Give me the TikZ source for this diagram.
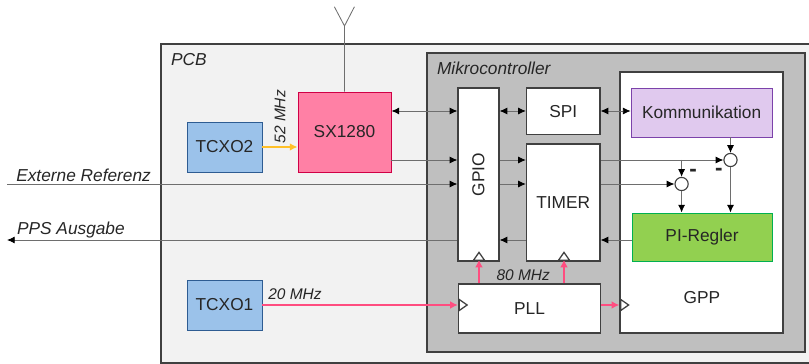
\documentclass[tikz,border=0pt]{standalone}
\usepackage{fontspec}
\setmainfont{Liberation Sans}
\usepackage{xcolor}
\usetikzlibrary{arrows.meta, positioning, calc, shapes.geometric}
\definecolor{LineGrey}{RGB}{110, 110, 110}
\definecolor{BoxDark}{RGB}{64, 64, 64}
\definecolor{PcbFill}{RGB}{242, 242, 242}
\definecolor{McuFill}{RGB}{191, 191, 191}
\definecolor{XoFill}{RGB}{155, 194, 234}
\definecolor{XoDraw}{RGB}{46, 92, 146}
\definecolor{RadioFill}{RGB}{255, 128, 165}
\definecolor{RadioDraw}{RGB}{208, 0, 70}
\definecolor{CommFill}{RGB}{224, 201, 238}
\definecolor{CommDraw}{RGB}{124, 66, 170}
\definecolor{CtrlFill}{RGB}{146, 208, 80}
\definecolor{CtrlDraw}{RGB}{0, 176, 80}
\definecolor{ClockPink}{RGB}{255, 77, 128}
\definecolor{ClockYellow}{RGB}{255, 192, 40}
\definecolor{InkText}{RGB}{38, 38, 38}
\tikzset{
  blockbox/.style={draw=BoxDark,line width=0.9pt,fill=white,inner sep=0pt,text=InkText,font=\fontsize{12.3}{14}\selectfont},
  colorbox/.style={blockbox,line width=0.7pt},
  titletext/.style={inner sep=0pt,text=InkText,font=\fontsize{12.3}{14}\selectfont\itshape},
  sigline/.style={draw=LineGrey,line width=0.6pt},
  sigarrow/.style={sigline,-{Latex[black,length=5.5pt,width=5pt]}},
  sigboth/.style={sigline,{Latex[black,length=5.5pt,width=5pt]}-{Latex[black,length=5.5pt,width=5pt]}},
  clockline/.style={draw=ClockPink,line width=1.4pt,-{Latex[length=5.5pt,width=5.5pt]}},
  clockmark/.style={draw=BoxDark,line width=0.9pt,fill=white,isosceles triangle,isosceles triangle apex angle=70,inner sep=0pt,minimum height=0.2cm,minimum width=0.2cm},
  sumnode/.style={circle,draw=BoxDark,line width=0.8pt,fill=white,inner sep=0pt,minimum size=0.33cm},
  minustext/.style={inner sep=0pt,text=InkText,font=\bfseries\fontsize{16}{18}\selectfont}
}

\begin{document}
\begin{tikzpicture}[x=1cm,y=1cm]
    \useasboundingbox (0,0) rectangle (20.225,-9.1);
    % outer boards
    \node[draw=BoxDark,line width=0.9pt,fill=PcbFill,inner sep=0pt,minimum width=16.35cm,minimum height=7.975cm] (pcb) at (12.2,-5.0875) {};
    \node[draw=BoxDark,line width=0.9pt,fill=McuFill,inner sep=0pt,minimum width=9.45cm,minimum height=7.475cm] (mcu) at (15.4,-5.0625) {};
    \node[titletext,anchor=west] (pcbtitle) at (4.27,-1.5) {PCB};
    \node[titletext,anchor=west] (mcutitle) at (10.92,-1.7) {Mikrocontroller};

    % blocks
    \node[blockbox,minimum width=4.075cm,minimum height=6.525cm] (gpp) at (17.5375,-5.0625) {};
    \node[inner sep=0pt,text=InkText,font=\fontsize{12.3}{14}\selectfont] (gpptext) at (17.55,-7.45) {GPP};
    \node[blockbox,minimum width=1.025cm,minimum height=4.325cm] (gpio) at (11.9625,-4.3625) {\rotatebox{90}{GPIO}};
    \node[blockbox,minimum width=1.8375cm,minimum height=1.1625cm] (spi) at (14.08,-2.78) {SPI};
    \node[blockbox,minimum width=1.8375cm,minimum height=2.925cm] (timer) at (14.08,-5.0625) {TIMER};
    \node[blockbox,minimum width=3.55cm,minimum height=1.225cm] (pll) at (13.2375,-7.7125) {PLL};
    \node[colorbox,fill=CommFill,draw=CommDraw,minimum width=3.525cm,minimum height=1.225cm] (komm) at (17.54,-2.8125) {Kommunikation};
    \node[colorbox,fill=CtrlFill,draw=CtrlDraw,minimum width=3.5cm,minimum height=1.2cm] (regler) at (17.55,-5.925) {PI-Regler};
    \node[colorbox,fill=RadioFill,draw=RadioDraw,minimum width=2.325cm,minimum height=2cm] (radio) at (8.6125,-3.3) {SX1280};
    \node[colorbox,fill=XoFill,draw=XoDraw,minimum width=1.875cm,minimum height=1.25cm] (tcxob) at (5.6125,-3.675) {TCXO2};
    \node[colorbox,fill=XoFill,draw=XoDraw,minimum width=1.875cm,minimum height=1.25cm] (tcxoa) at (5.6125,-7.625) {TCXO1};
    \node[sumnode] (sumb) at (18.2625,-4) {};
    \node[sumnode] (suma) at (17.04,-4.6) {};

    % signal levels and free ends
    \coordinate (lvlspi) at (0,-2.775);
    \coordinate (lvlsync) at (0,-4);
    \coordinate (lvlref) at (0,-4.6);
    \coordinate (lvlpps) at (0,-6);
    \coordinate (lvlclk) at (0,-7.625);
    \coordinate (extin) at (0.175,-4.6);
    \coordinate (ppsout) at (0.175,-6);
    \coordinate (antfoot) at (8.6125,-0.65);
    \coordinate (antleft) at (8.36,-0.17);
    \coordinate (antright) at (8.86,-0.17);
    \coordinate (branch) at (suma |- lvlsync);

    % antenna
    \draw[sigline] (radio.north) -- (antfoot) -- (antleft) (antfoot) -- (antright);

    % data connections
    \draw[sigboth] (radio.east |- lvlspi) -- (gpio.west |- lvlspi);
    \draw[sigarrow] (radio.east |- lvlsync) -- (gpio.west |- lvlsync);
    \draw[sigarrow] (extin) -- (gpio.west |- lvlref);
    \draw[sigboth] (gpio.east |- lvlspi) -- (spi.west |- lvlspi);
    \draw[sigarrow] (gpio.east |- lvlsync) -- (timer.west |- lvlsync);
    \draw[sigarrow] (gpio.east |- lvlref) -- (timer.west |- lvlref);
    \draw[sigboth] (spi.east |- lvlspi) -- (komm.west |- lvlspi);
    \draw[sigarrow] (timer.east |- lvlsync) -- (sumb.west);
    \draw[sigarrow] (timer.east |- lvlref) -- (suma.west);
    \draw[sigarrow] (branch) -- (suma.north);
    \draw[sigarrow] (komm.south -| sumb) -- (sumb.north);
    \draw[sigarrow] (suma.south) -- (regler.north -| suma);
    \draw[sigarrow] (sumb.south) -- (regler.north -| sumb);
    \draw[sigarrow] (regler.west |- lvlpps) -- (timer.east |- lvlpps);
    \draw[sigarrow] (timer.west |- lvlpps) -- (gpio.east |- lvlpps);
    \draw[sigarrow] (gpio.west |- lvlpps) -- (ppsout);

    % clocks
    \draw[draw=ClockYellow,line width=1.3pt,-{Latex[length=5.5pt,width=5.5pt]}] (tcxob.east) -- (radio.west |- tcxob);
    \draw[clockline] (tcxoa.east) -- (pll.west |- lvlclk);
    \draw[clockline] (pll.east |- lvlclk) -- (gpp.west |- lvlclk);
    \draw[clockline] (pll.north -| 11.975,0) -- ([yshift=0.05cm]gpio.south -| 11.975,0);
    \draw[clockline] (pll.north -| 14.1,0) -- ([yshift=0.05cm]timer.south -| 14.1,0);
    \node[clockmark,rotate=90,anchor=lower side] (clkgpio) at (11.975,-6.525) {};
    \node[clockmark,rotate=90,anchor=lower side] (clktimer) at (14.1,-6.525) {};
    \node[clockmark,anchor=lower side] (clkpll) at (11.4625,-7.625) {};
    \node[clockmark,anchor=lower side] (clkgpp) at (15.5,-7.625) {};

    % labels
    \node[titletext,anchor=west] (extlabel) at (0.4,-4.38) {Externe Referenz};
    \node[titletext,anchor=west] (ppslabel) at (0.42,-5.76) {PPS Ausgabe};
    \node[titletext,anchor=west,font=\fontsize{11}{13}\selectfont\itshape] (xoalabel) at (6.7,-7.35) {20 MHz};
    \node[titletext,anchor=center,font=\fontsize{11}{13}\selectfont\itshape] (pllabel) at (13.08,-6.88) {80 MHz};
    \node[titletext,rotate=90,anchor=center,font=\fontsize{11}{13}\selectfont\itshape] (xoblabel) at (7.0,-2.92) {52 MHz};
    \node[minustext] (minusa) at (17.33,-4.33) {-};
    \node[minustext] (minusb) at (17.97,-4.31) {-};
\end{tikzpicture}
\end{document}
